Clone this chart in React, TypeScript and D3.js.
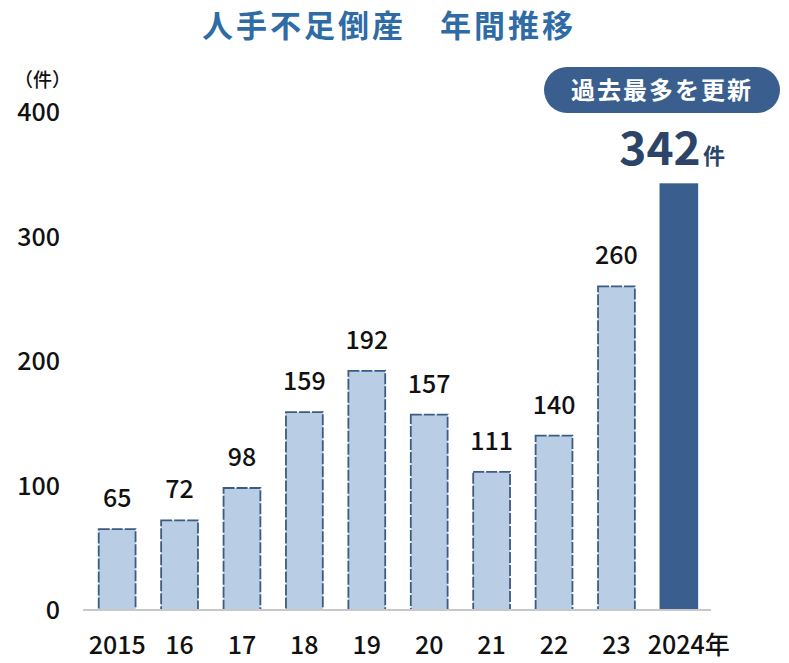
import React from "react";
import * as d3 from "d3";

const years = ["2015", "16", "17", "18", "19", "20", "21", "22", "23", "2024年"];
const counts = [65, 72, 98, 159, 192, 157, 111, 140, 260, 342];
const yTicks = [0, 100, 200, 300, 400];
const title = "人手不足倒産　年間推移";
const badgeText = "過去最多を更新";
const highlightValue = "342";
const unit = "件";
const axisUnit = "（件）";

const W = 789;
const H = 663;
const FONT = "'Noto Sans CJK JP', 'Noto Sans', sans-serif";

export default function App() {
  const x = d3
    .scaleBand<string>()
    .domain(years)
    .range([85, 711])
    .paddingInner(0.41)
    .paddingOuter(0.22);
  const y = d3.scaleLinear().domain([0, 400]).range([610, 112]);
  const last = counts.length - 1;

  return (
    <svg width={W} height={H} style={{ display: "block", position: "absolute", left: 0, top: 0 }} fontFamily={FONT}>
      <rect width={W} height={H} fill="#ffffff" />
      <text x={389} y={37} textAnchor="middle" fontSize={31} fontWeight={700} fill="#2f6ca5" letterSpacing={3}>
        {title}
      </text>

      <text x={14} y={87} fontSize={19} fontWeight={500} fill="#111">
        {axisUnit}
      </text>
      {yTicks.map((t) => (
        <text key={t} x={60} y={y(t) + 9} textAnchor="end" fontSize={25} fontWeight={500} fill="#111">
          {t}
        </text>
      ))}

      {counts.map((v, i) => {
        const bx = x(years[i])!;
        const bw = x.bandwidth();
        const isLast = i === last;
        return (
          <g key={years[i]}>
            <rect
              x={bx}
              y={y(v)}
              width={bw}
              height={y(0) - y(v)}
              fill={isLast ? "#3a5f8f" : "#b9cde5"}
              stroke={isLast ? "#3a5f8f" : "#3c5b84"}
              strokeWidth={1.8}
              strokeDasharray={isLast ? undefined : "11,2"}
            />
            {!isLast && (
              <text x={bx + bw / 2} y={y(v) - 22} textAnchor="middle" fontSize={25} fontWeight={500} fill="#111">
                {v}
              </text>
            )}
            <text x={bx + bw / 2 + (isLast ? 10 : 0)} y={654} textAnchor="middle" fontSize={25} fontWeight={500} fill="#111">
              {years[i]}
            </text>
          </g>
        );
      })}

      <line x1={83} x2={711} y1={y(0)} y2={y(0)} stroke="#c8c8c8" strokeWidth={2} />

      <rect x={544} y={67} width={236} height={46} rx={23} fill="#3a5f8f" />
      <text x={662} y={99} textAnchor="middle" fontSize={24} fontWeight={700} fill="#ffffff" letterSpacing={2}>
        {badgeText}
      </text>

      <text x={660} y={165} textAnchor="middle" fontSize={46} fontWeight={700} fill="#2b4468">
        {highlightValue}
      </text>
      <text x={714} y={164} textAnchor="middle" fontSize={22} fontWeight={700} fill="#2b4468">
        {unit}
      </text>
    </svg>
  );
}
